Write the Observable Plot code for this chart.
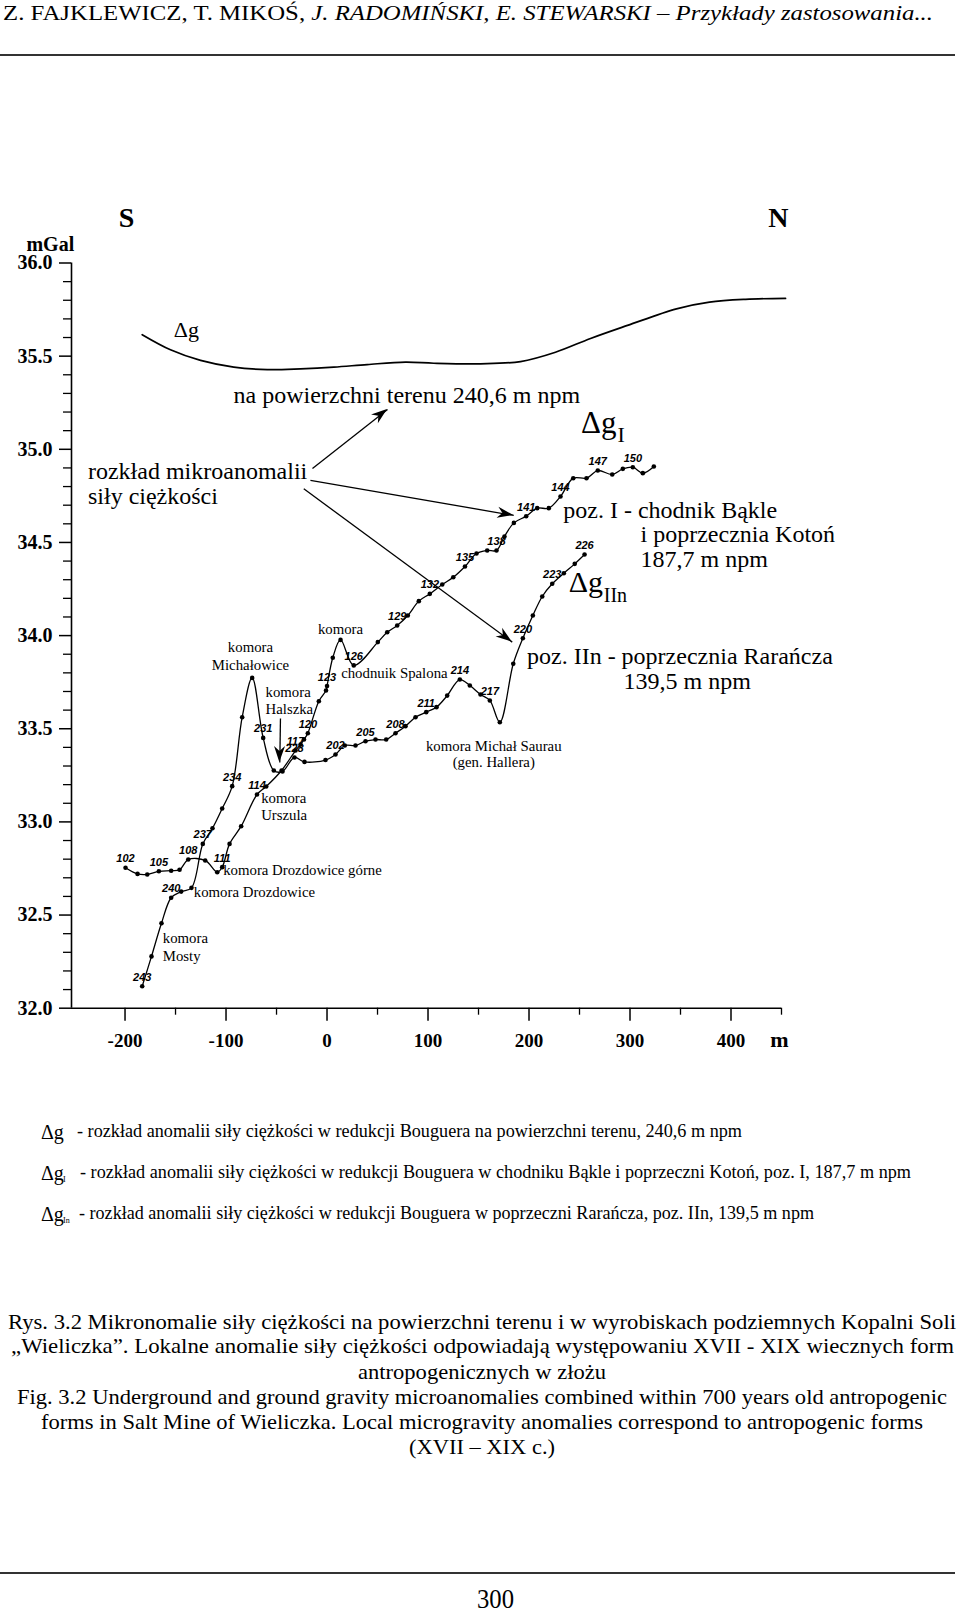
<!DOCTYPE html>
<html><head><meta charset="utf-8">
<script src="https://cdn.jsdelivr.net/npm/d3@7"></script>
<script src="https://cdn.jsdelivr.net/npm/@observablehq/plot@0.6"></script>
<style>
html,body{margin:0;padding:0;background:#fff;}
body{width:960px;height:1611px;position:relative;overflow:hidden;font-family:"Liberation Serif","Times New Roman",serif;color:#000;}
.t{position:absolute;white-space:nowrap;line-height:1;transform-origin:0 0;left:0;top:0;}
#chart{position:absolute;left:0;top:190px;}
.rule{position:absolute;left:0;width:955px;height:2px;background:#333;}
</style></head><body>
<div class="rule" style="top:54px"></div>
<div class="rule" style="top:1572px"></div>
<div id="chart"></div>
<script>
// ---------- data ----------
// surface profile Δg (240,6 m npm)
const surfM = [-183.0,-155.0,-125.2,-92.3,-59.2,-26.2,6.7,39.8,77.7,105.7,152.0,191.6,226.2,260.9,297.5,346.0,378.7,414.4,454.0];
const surfV = [35.615,35.534,35.477,35.441,35.428,35.432,35.441,35.455,35.468,35.462,35.459,35.471,35.521,35.595,35.665,35.754,35.790,35.805,35.810];

// level I profile ΔgI (points 102–152)
const gIIds = [102,103,104,105,106,107,108,109,110,111,112,113,114,115,116,117,118,119,120,121,122,123,124,125,126,127,128,129,130,131,132,133,134,135,136,137,138,139,140,141,142,143,144,145,146,147,148,149,150,151,152];
const gIM = [-199.5,-187.6,-178.0,-166.5,-154.3,-146.0,-137.4,-120.6,-108.7,-103.8,-96.5,-85.0,-69.3,-60.2,-45.0,-31.2,-26.2,-22.8,-19.0,-8.1,-1.0,0,5.7,13.4,26.5,50.3,59.6,69.5,80.0,90.9,101.8,114.1,125.0,136.6,148.0,158.6,167.8,175.7,185.0,197.2,208.1,219.6,231.2,243.8,256.9,268.1,282.4,292.9,302.8,312.7,323.6];
const gIV = [32.754,32.721,32.718,32.735,32.738,32.743,32.798,32.793,32.730,32.757,32.882,32.977,33.147,33.190,33.276,33.383,33.415,33.442,33.476,33.648,33.705,33.729,33.881,33.977,33.840,33.965,34.018,34.054,34.108,34.185,34.224,34.274,34.313,34.371,34.441,34.457,34.457,34.532,34.605,34.641,34.684,34.684,34.747,34.845,34.845,34.886,34.865,34.895,34.904,34.872,34.908];
const gILabeled = [102,105,108,111,114,117,120,123,126,129,132,135,138,141,144,147,150];

// level IIn profile ΔgIIn
const gIInIds = [243,242,241,240,239,238,237,236,235,234,233,232,231,230,229,228,227,201,202,203,204,205,206,207,208,209,210,211,212,213,214,215,216,217,218,219,220,221,222,223,224,225,226];
const gIInM = [-183.0,-173.8,-163.9,-154.3,-144.4,-134.2,-123.0,-113.4,-103.8,-93.9,-84.0,-74.1,-63.2,-52.7,-44.1,-32.2,-22.3,-1.5,8.4,17.6,28.2,38.1,48.0,58.6,67.8,77.7,87.6,98.2,108.4,119.0,131.5,141.4,152.0,161.2,171.1,184.4,193.9,203.8,213.1,223.0,234.5,245.3,255.0];
const gIInV = [32.118,32.278,32.456,32.593,32.626,32.646,32.882,32.966,33.072,33.192,33.562,33.773,33.451,33.276,33.271,33.346,33.322,33.332,33.362,33.410,33.410,33.433,33.442,33.442,33.476,33.514,33.562,33.589,33.616,33.678,33.764,33.732,33.684,33.652,33.535,33.849,33.986,34.108,34.210,34.278,34.335,34.385,34.435];
const gIInLabeled = [202,205,208,211,214,217,220,223,226,228,231,234,237,240,243];

// axes
const yMajorTicks = [32.0,32.5,33.0,33.5,34.0,34.5,35.0,35.5,36.0];
const yMajorLabels = ["32.0","32.5","33.0","33.5","34.0","34.5","35.0","35.5","36.0"];
const xMajorTicks = [-200,-100,0,100,200,300,400];
const xMajorLabels = ["-200","-100","0","100","200","300","400"];
const xMinorTicks = [-150,-50,50,150,250,350,450];
const yMinorTicks = d3.range(32, 36.0001, 0.1).map(d => +d.toFixed(1)).filter(d => !yMajorTicks.includes(d));

// annotations (text, anchor in data units m / mGal)
const bigNotes = [
  {t:"na powierzchni terenu 240,6 m npm", m:-92.6, v:35.292},
  {t:"rozkład mikroanomalii", m:-236.7, v:34.881},
  {t:"siły ciężkości", m:-236.7, v:34.747},
  {t:"poz. I - chodnik Bąkle", m:233.9, v:34.675},
  {t:"i poprzecznia Kotoń", m:310.4, v:34.541},
  {t:"187,7 m npm", m:310.4, v:34.407},
  {t:"poz. IIn - poprzecznia Rarańcza", m:198.0, v:33.888},
  {t:"139,5 m npm", m:293.6, v:33.756}
];
const smallNotesStart = [
  {t:"chodnuik Spalona", m:14.0, v:33.800},
  {t:"komora", m:-60.9, v:33.694},
  {t:"Halszka", m:-60.9, v:33.605},
  {t:"komora", m:-65.2, v:33.125},
  {t:"Urszula", m:-65.2, v:33.036},
  {t:"komora Drozdowice górne", m:-102.8, v:32.740},
  {t:"komora Drozdowice", m:-131.9, v:32.621},
  {t:"komora", m:-162.6, v:32.374},
  {t:"Mosty", m:-162.6, v:32.281}
];
const smallNotesMiddle = [
  {t:"komora", m:13.35, v:34.034},
  {t:"komora", m:-75.8, v:33.936},
  {t:"Michałowice", m:-75.8, v:33.841},
  {t:"komora Michał Saurau", m:165.1, v:33.408},
  {t:"(gen. Hallera)", m:165.1, v:33.319}
];
const symbolNotes = [
  {t:"Δg", m:-151.7, v:35.640, s:22},
  {t:"Δg", m:251.5, v:35.140, s:31},
  {t:"I", m:287.5, v:35.076, s:22},
  {t:"Δg", m:239.4, v:34.283, s:30},
  {t:"IIn", m:274.05, v:34.214, s:20}
];
const arrows = [
  {m1:-14.4, v1:34.897, m2:59.9, v2:35.214},
  {m1:-16.4, v1:34.833, m2:184.9, v2:34.645},
  {m1:-23.0, v1:34.788, m2:183.4, v2:33.965},
  {m1:-46.1, v1:33.555, m2:-46.75, v2:33.319}
];

// page texts
const headerHtml = 'Z. FAJKLEWICZ, T. MIKOŚ, <i>J. RADOMIŃSKI, E. STEWARSKI – Przykłady zastosowania...</i>';
const legendTexts = [
  "- rozkład anomalii siły ciężkości w redukcji Bouguera na powierzchni terenu, 240,6 m npm",
  "- rozkład anomalii siły ciężkości w redukcji Bouguera w chodniku Bąkle i poprzeczni Kotoń, poz. I, 187,7 m npm",
  "- rozkład anomalii siły ciężkości w redukcji Bouguera w poprzeczni Rarańcza, poz. IIn, 139,5 m npm"
];
const legendSubs = ["", "I", "In"];
const captionLines = [
  "Rys. 3.2 Mikronomalie siły ciężkości na powierzchni terenu i w wyrobiskach podziemnych Kopalni Soli",
  "„Wieliczka”. Lokalne anomalie siły ciężkości odpowiadają występowaniu XVII - XIX wiecznych form",
  "antropogenicznych w złożu",
  "Fig. 3.2 Underground and ground gravity microanomalies combined within 700 years old antropogenic",
  "forms in Salt Mine of Wieliczka. Local microgravity anomalies correspond to antropogenic forms",
  "(XVII – XIX c.)"
];
const pageNumber = "300";

// ---------- build tables ----------
const surf = surfM.map((m, i) => ({m, v: surfV[i]}));
const gI = gIIds.map((id, i) => ({id, m: gIM[i], v: gIV[i]}));
const gIIn = gIInIds.map((id, i) => ({id, m: gIInM[i], v: gIInV[i]}));

const SERIF = "Liberation Serif, Times New Roman, serif";
const SANS = "Liberation Sans, Arial, sans-serif";

const plot = Plot.plot({
  width: 960, height: 870,
  marginLeft: 71, marginRight: 179, marginTop: 72.5, marginBottom: 52.3,
  x: {domain: [-253, 450], label: null},
  y: {domain: [32, 36], label: null},
  style: {fontFamily: SERIF, background: "white", overflow: "visible", color: "black"},
  marks: [
    Plot.ruleX([-253], {y1: 32, y2: 36, stroke: "black", strokeWidth: 1.6}),
    Plot.ruleY([32], {x1: -253, x2: 450, stroke: "black", strokeWidth: 1.6}),
    Plot.axisY(yMajorTicks, {anchor: "left", tickSize: 12, tickPadding: 7, strokeWidth: 1.5,
      tickFormat: d => yMajorLabels[yMajorTicks.indexOf(d)], fontSize: 20, fontWeight: "bold", fontFamily: SERIF, label: null}),
    Plot.axisY(yMinorTicks, {anchor: "left", tickSize: 8, strokeWidth: 1.3, tickFormat: () => "", label: null}),
    Plot.axisX(xMajorTicks, {anchor: "bottom", tickSize: 13, tickPadding: 12, strokeWidth: 1.5,
      tickFormat: d => xMajorLabels[xMajorTicks.indexOf(d)], fontSize: 19, fontWeight: "bold", fontFamily: SERIF, label: null}),
    Plot.axisX(xMinorTicks, {anchor: "bottom", tickSize: 7, strokeWidth: 1.3, tickFormat: () => "", label: null}),

    Plot.line(surf, {x: "m", y: "v", curve: "catmull-rom", stroke: "black", strokeWidth: 1.7}),
    Plot.line(gI, {x: "m", y: "v", curve: "catmull-rom", stroke: "black", strokeWidth: 1.3}),
    Plot.dot(gI, {x: "m", y: "v", r: 2.3, fill: "black"}),
    Plot.line(gIIn, {x: "m", y: "v", curve: "catmull-rom", stroke: "black", strokeWidth: 1.3}),
    Plot.dot(gIIn, {x: "m", y: "v", r: 2.3, fill: "black"}),

    Plot.text(gI, {filter: d => gILabeled.includes(d.id), x: "m", y: "v", text: d => String(d.id), dy: -9,
      fontSize: 11, fontStyle: "italic", fontWeight: "bold", fontFamily: SANS}),
    Plot.text(gIIn, {filter: d => gIInLabeled.includes(d.id), x: "m", y: "v", text: d => String(d.id), dy: -9,
      fontSize: 11, fontStyle: "italic", fontWeight: "bold", fontFamily: SANS}),

    Plot.link(arrows, {x1: "m1", y1: "v1", x2: "m2", y2: "v2", stroke: "black", strokeWidth: 1.3}),

    Plot.text(bigNotes, {x: "m", y: "v", text: "t", textAnchor: "start", fontSize: 24, fontFamily: SERIF}),
    Plot.text(smallNotesStart, {x: "m", y: "v", text: "t", textAnchor: "start", fontSize: 14.8, fontFamily: SERIF}),
    Plot.text(smallNotesMiddle, {x: "m", y: "v", text: "t", textAnchor: "middle", fontSize: 14.8, fontFamily: SERIF}),
    Plot.text(symbolNotes, {x: "m", y: "v", text: "t", textAnchor: "start", fontSize: "s", fontFamily: SERIF}),

    Plot.text(["S"], {x: -198.5, y: 36.240, text: d => d, fontSize: 28, fontWeight: "bold", fontFamily: SERIF}),
    Plot.text(["N"], {x: 447.0, y: 36.240, text: d => d, fontSize: 28, fontWeight: "bold", fontFamily: SERIF}),
    Plot.text(["mGal"], {x: -297.6, y: 36.101, text: d => d, textAnchor: "start", fontSize: 20, fontWeight: "bold", fontFamily: SERIF}),
    Plot.text(["m"], {x: 448.0, y: 31.828, text: d => d, fontSize: 22, fontWeight: "bold", fontFamily: SERIF})
  ]
});
document.getElementById("chart").appendChild(plot);

// filled arrow heads through the plot's scales
const sx = plot.scale("x"), sy = plot.scale("y");
const heads = d3.select(plot).append("g").attr("fill", "black");
for (const a of arrows) {
  const x1 = sx.apply(a.m1), y1 = sy.apply(a.v1), x2 = sx.apply(a.m2), y2 = sy.apply(a.v2);
  const ang = Math.atan2(y2 - y1, x2 - x1) * 180 / Math.PI;
  heads.append("path").attr("d", "M0,0L-16,-5.5L-11,0L-16,5.5Z")
    .attr("transform", `translate(${x2},${y2}) rotate(${ang})`);
}

// ---------- page text ----------
function place(html, o) {
  const el = document.createElement("div");
  el.className = "t";
  el.innerHTML = html;
  el.style.fontSize = o.fs + "px";
  if (o.italic) el.style.fontStyle = "italic";
  if (o.weight) el.style.fontWeight = o.weight;
  document.body.appendChild(el);
  const w = el.getBoundingClientRect().width;
  const k = o.width ? o.width / w : 1;
  el.style.transform = `scaleX(${k})`;
  const left = o.align === "center" ? o.x - w * k / 2 : o.x;
  el.style.left = left + "px";
  el.style.top = (o.baseline - 0.8375 * o.fs) + "px";
  return el;
}
place(headerHtml, {x: 3, baseline: 19.5, fs: 20, width: 930});

const legendBase = [1137.5, 1178.5, 1219.5];
const legendStart = [77, 80, 79];
const legendEnd = [742, 911, 814];
legendTexts.forEach((t, i) => {
  place("Δg", {x: 41, baseline: legendBase[i] + 1, fs: 20});
  if (legendSubs[i]) place(legendSubs[i], {x: 63, baseline: legendBase[i] + 4, fs: 8});
  place(t, {x: legendStart[i], baseline: legendBase[i], fs: 18, width: legendEnd[i] - legendStart[i]});
});

const capBase = [1329.3, 1353.8, 1379.3, 1404.3, 1429.8, 1454.3];
const capWidth = [948, 943, 248, 930, 882, 146];
captionLines.forEach((t, i) => {
  place(t, {x: 482, baseline: capBase[i], fs: 21, width: capWidth[i], align: "center"});
});
place(pageNumber, {x: 495.5, baseline: 1608, fs: 28, width: 37, align: "center"});
</script>
</body></html>
